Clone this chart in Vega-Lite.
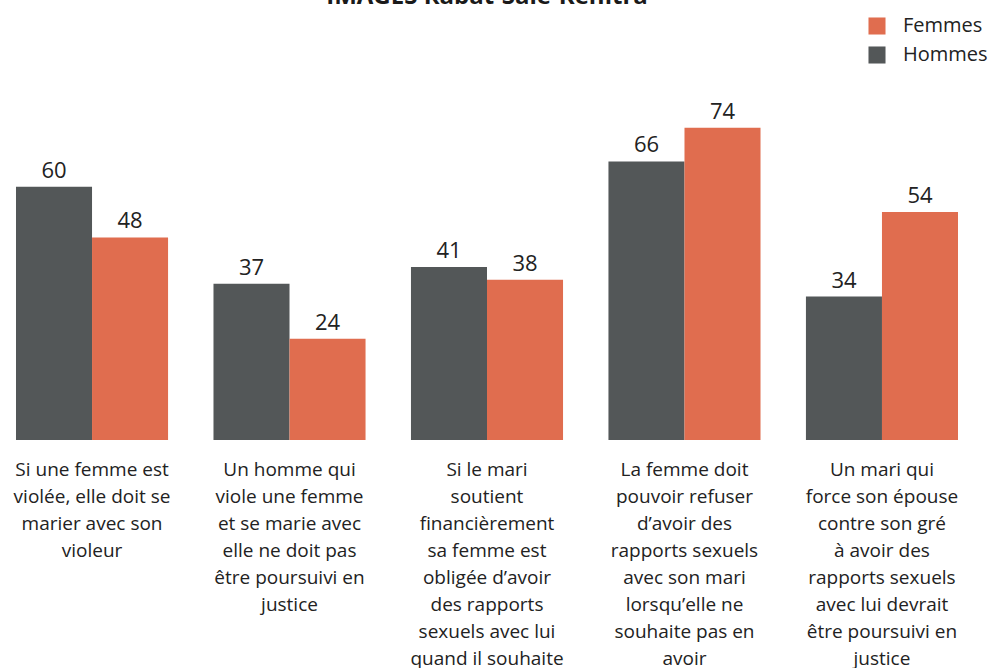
{
  "$schema": "https://vega.github.io/schema/vega-lite/v6.json",
  "autosize": {"type": "none"},
  "width": 974,
  "height": 422,
  "padding": {"left": 0, "top": 18, "right": 26, "bottom": 228},
  "background": "white",
  "title": {
    "text": "IMAGES Rabat-Salé-Kénitra",
    "font": "Open Sans",
    "fontSize": 24,
    "fontWeight": "bold",
    "color": "#1a1a1a",
    "anchor": "middle",
    "baseline": "alphabetic",
    "offset": 0,
    "dy": 12
  },
  "config": {
    "view": {"stroke": null},
    "font": "Open Sans"
  },
  "data": {
    "values": [
      {"q": "Si une femme est|violée, elle doit se|marier avec son|violeur", "sexe": "Hommes", "v": 60},
      {"q": "Si une femme est|violée, elle doit se|marier avec son|violeur", "sexe": "Femmes", "v": 48},
      {"q": "Un homme qui|viole une femme|et se marie avec|elle ne doit pas|être poursuivi en|justice", "sexe": "Hommes", "v": 37},
      {"q": "Un homme qui|viole une femme|et se marie avec|elle ne doit pas|être poursuivi en|justice", "sexe": "Femmes", "v": 24},
      {"q": "Si le mari|soutient|financièrement|sa femme est|obligée d’avoir|des rapports|sexuels avec lui|quand il souhaite", "sexe": "Hommes", "v": 41},
      {"q": "Si le mari|soutient|financièrement|sa femme est|obligée d’avoir|des rapports|sexuels avec lui|quand il souhaite", "sexe": "Femmes", "v": 38},
      {"q": "La femme doit|pouvoir refuser|d’avoir des|rapports sexuels|avec son mari|lorsqu’elle ne|souhaite pas en|avoir", "sexe": "Hommes", "v": 66},
      {"q": "La femme doit|pouvoir refuser|d’avoir des|rapports sexuels|avec son mari|lorsqu’elle ne|souhaite pas en|avoir", "sexe": "Femmes", "v": 74},
      {"q": "Un mari qui|force son épouse|contre son gré|à avoir des|rapports sexuels|avec lui devrait|être poursuivi en|justice", "sexe": "Hommes", "v": 34},
      {"q": "Un mari qui|force son épouse|contre son gré|à avoir des|rapports sexuels|avec lui devrait|être poursuivi en|justice", "sexe": "Femmes", "v": 54}
    ]
  },
  "encoding": {
    "x": {
      "field": "q",
      "type": "nominal",
      "sort": null,
      "title": null,
      "scale": {"paddingInner": 0.23, "paddingOuter": 0.081},
      "axis": {
        "labelAngle": 0,
        "labelExpr": "split(datum.label, '|')",
        "labelFont": "Open Sans",
        "labelFontSize": 19,
        "labelLineHeight": 27,
        "labelColor": "#222222",
        "labelPadding": 20,
        "labelLimit": 0,
        "ticks": false,
        "domain": false,
        "labelBaseline": "top"
      }
    },
    "xOffset": {
      "field": "sexe",
      "type": "nominal",
      "sort": ["Hommes", "Femmes"],
      "scale": {"paddingInner": 0, "paddingOuter": 0}
    },
    "y": {
      "field": "v",
      "type": "quantitative",
      "scale": {"domain": [0, 100]},
      "axis": null
    }
  },
  "layer": [
    {
      "mark": {"type": "bar"},
      "encoding": {
        "color": {
          "field": "sexe",
          "type": "nominal",
          "scale": {"domain": ["Femmes", "Hommes"], "range": ["#E06D4F", "#535758"]},
          "legend": {
            "title": null,
            "orient": "none",
            "legendX": 867,
            "legendY": -2,
            "symbolType": "square",
            "symbolSize": 290,
            "symbolStrokeWidth": 0,
            "labelFont": "Open Sans",
            "labelFontSize": 20,
            "labelColor": "#222222",
            "labelOffset": 16,
            "rowPadding": 9
          }
        }
      }
    },
    {
      "mark": {"type": "text", "baseline": "alphabetic", "dy": -9, "font": "Open Sans", "fontSize": 22, "color": "#222222"},
      "encoding": {
        "text": {"field": "v", "type": "quantitative"}
      }
    }
  ]
}
